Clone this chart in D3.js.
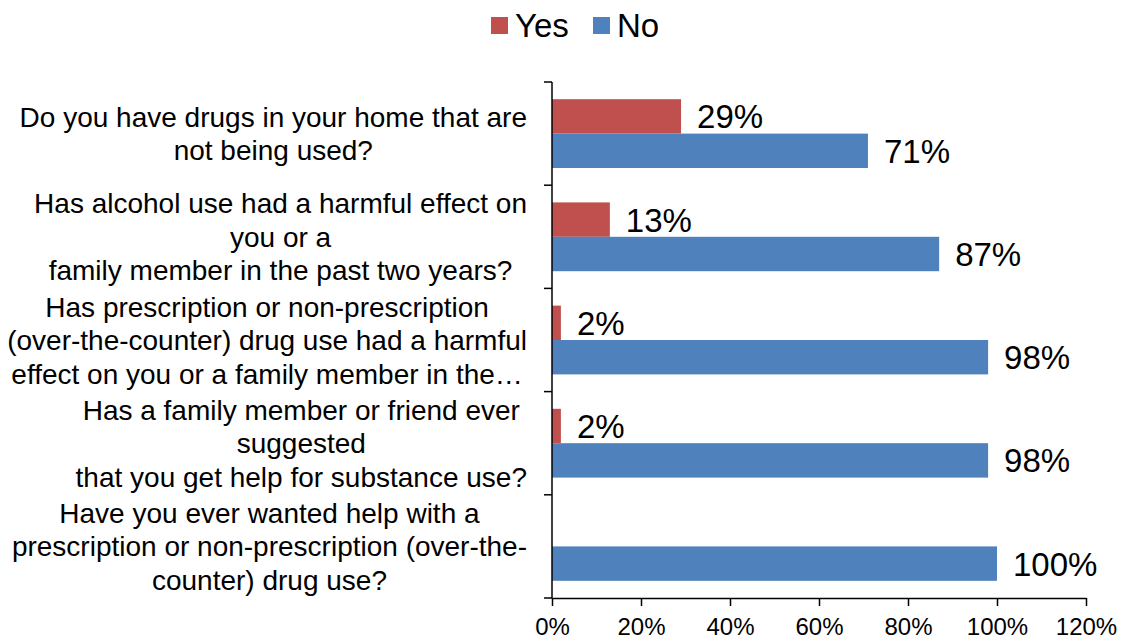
<!DOCTYPE html>
<html>
<head>
<meta charset="utf-8">
<script src="https://cdn.jsdelivr.net/npm/d3@7"></script>
<style>
  body { margin: 0; background: #fff; }
  svg { font-family: "Liberation Sans", Arial, sans-serif; }
</style>
</head>
<body>
<div id="chart"></div>
<script>
// questions, each split into the lines shown on the chart
let questions = [
  ["Do you have drugs in your home that are", "not being used?"],
  ["Has alcohol use had a harmful effect on", "you or a", "family member in the past two years?"],
  ["Has prescription or non-prescription", "(over-the-counter) drug use had a harmful", "effect on you or a family member in the\u2026"],
  ["Has a family member or friend ever", "suggested", "that you get help for substance use?"],
  ["Have you ever wanted help with a", "prescription or non-prescription (over-the-", "counter) drug use?"]
];
let keys = ["Yes", "No"];
let colors = ["#C0504D", "#4F81BD"];
let yes_values = [0.29, 0.13, 0.02, 0.02, null];
let no_values = [0.71, 0.87, 0.98, 0.98, 1.00];
let x_ticks = [0, 0.2, 0.4, 0.6, 0.8, 1.0, 1.2];

let width = 1127, height = 640;
let margin = {top: 82, right: 41, bottom: 42, left: 552};

let data = questions.map(function(q, i) {
  return {id: i, lines: q, Yes: yes_values[i], No: no_values[i]};
});

let svg = d3.select("#chart")
            .append("svg")
            .attr("width", width)
            .attr("height", height);

let x = d3.scaleLinear()
          .domain([0, 1.2])
          .range([margin.left, width - margin.right]);

let y0 = d3.scaleBand()
           .domain(data.map(d => d.id))
           .range([margin.top, height - margin.bottom]);

let y1 = d3.scaleBand()
           .domain(keys)
           .range([0, y0.bandwidth()])
           .paddingInner(0)
           .paddingOuter(0.5);

let z = d3.scaleOrdinal().domain(keys).range(colors);

// bars
let groups = svg.append("g")
  .selectAll("g")
  .data(data)
  .join("g")
  .attr("transform", d => "translate(0," + y0(d.id) + ")");

let bars = groups.selectAll("g")
  .data(d => keys.filter(k => d[k] != null).map(k => ({key: k, value: d[k]})))
  .join("g");

bars.append("rect")
  .attr("x", x(0))
  .attr("y", d => y1(d.key))
  .attr("width", d => x(d.value) - x(0))
  .attr("height", y1.bandwidth())
  .attr("fill", d => z(d.key));

bars.append("text")
  .attr("x", d => x(d.value) + 16)
  .attr("y", d => y1(d.key) + y1.bandwidth() / 2 + 12)
  .style("font-size", "33px")
  .attr("fill", "#000")
  .text(d => d3.format(".0%")(d.value));

// y axis with ticks at band boundaries
let yAxis = svg.append("g");
let bounds = y0.domain().map(d => y0(d)).concat([y0.range()[1]]);
yAxis.append("line")
  .attr("x1", x(0)).attr("x2", x(0))
  .attr("y1", y0.range()[0]).attr("y2", y0.range()[1])
  .attr("stroke", "#000").attr("stroke-width", 1.5);
yAxis.selectAll(".tick")
  .data(bounds)
  .join("line")
  .attr("x1", x(0) - 8).attr("x2", x(0))
  .attr("y1", d => d).attr("y2", d => d)
  .attr("stroke", "#000").attr("stroke-width", 1.5);

// category labels: lines centred inside a block set against the axis
let labelRight = x(0) - 25;
let lineH = 33.5;
data.forEach(function(d) {
  let g = svg.append("g").style("font-size", "28px");
  let texts = g.selectAll("text")
    .data(d.lines)
    .join("text")
    .attr("text-anchor", "middle")
    .attr("fill", "#000")
    .text(t => t);
  let maxW = d3.max(texts.nodes(), n => n.getComputedTextLength());
  let cy = y0(d.id) + y0.bandwidth() / 2;
  let n = d.lines.length;
  texts.attr("x", labelRight - maxW / 2)
       .attr("y", (t, i) => cy + (i - (n - 1) / 2) * lineH + 10);
});

// x axis
svg.append("g")
  .attr("transform", "translate(0," + y0.range()[1] + ")")
  .style("font-size", "24px")
  .call(d3.axisBottom(x).tickValues(x_ticks).tickFormat(d3.format(".0%")).tickSize(8).tickSizeOuter(0).tickPadding(12))
  .call(g => g.selectAll("line, path").attr("stroke", "#000").attr("stroke-width", 1.5))
  .call(g => g.selectAll("text").attr("fill", "#000").attr("font-family", "Liberation Sans, Arial, sans-serif"));

// legend
let legend = svg.append("g").style("font-size", "33px");
let legendX = [491, 593];
keys.forEach(function(k, i) {
  legend.append("rect")
    .attr("x", legendX[i]).attr("y", 17)
    .attr("width", 17).attr("height", 17)
    .attr("fill", z(k));
  legend.append("text")
    .attr("x", legendX[i] + 24).attr("y", 37)
    .attr("fill", "#000")
    .text(k);
});
</script>
</body>
</html>
